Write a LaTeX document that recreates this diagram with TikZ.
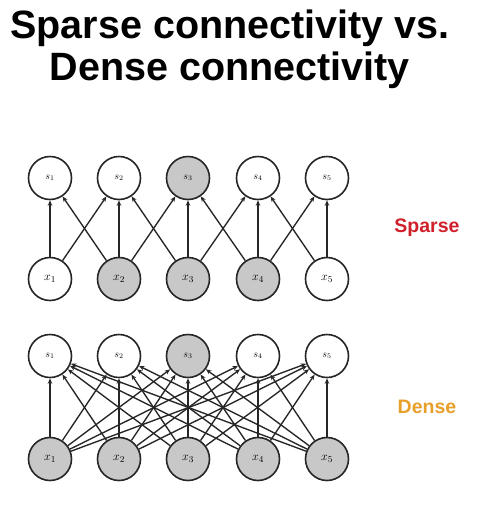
\documentclass[tikz,border=0pt]{standalone}
\usepackage{fontspec}
\setmainfont{Liberation Sans}
\usetikzlibrary{arrows.meta}
\definecolor{nodegray}{HTML}{C8C8C8}
\definecolor{sparsered}{HTML}{D0202A}
\definecolor{denseorange}{HTML}{E8A02A}
\tikzset{
  unit/.style={circle,draw=black!85,line width=1.6pt,minimum size=43pt,inner sep=0pt,fill=white},
  hot/.style={unit,fill=nodegray},
  slab/.style={font=\fontsize{10}{10}\selectfont},
  xlab/.style={font=\fontsize{12.5}{12}\selectfont},
  arr/.style={draw=black!85,line width=1.35pt,-{Stealth[length=5.5pt,width=4.5pt]}},
  title/.style={font=\fontsize{39.5}{42}\selectfont\bfseries,align=center},
  side/.style={font=\fontsize{19.5}{20}\selectfont\bfseries}
}
\begin{document}
\begin{tikzpicture}[x=1pt,y=-1pt]
\useasboundingbox[fill=white] (0,0) rectangle (483,515);
\node[title,anchor=base] (t) at (230,38) {Sparse connectivity vs.};
\node[title,anchor=base] (t2) at (230,80) {Dense connectivity};
% sparse
\node[unit,slab] (s1) at (50,178) {$s_1$};
\node[unit,slab] (s2) at (119,178) {$s_2$};
\node[hot,slab] (s3) at (188,178) {$s_3$};
\node[unit,slab] (s4) at (258,178) {$s_4$};
\node[unit,slab] (s5) at (327,178) {$s_5$};
\node[unit,xlab] (x1) at (50,279) {$x_1$};
\node[hot,xlab] (x2) at (119,279) {$x_2$};
\node[hot,xlab] (x3) at (188,279) {$x_3$};
\node[hot,xlab] (x4) at (258,279) {$x_4$};
\node[unit,xlab] (x5) at (327,279) {$x_5$};
\foreach \i in {1,...,5}{
  \draw[arr] (x\i) -- (s\i);
}
\foreach \i/\j in {1/2,2/3,3/4,4/5}{
  \draw[arr] (x\i) -- (s\j);
  \draw[arr] (x\j) -- (s\i);
}
\node[side,text=sparsered] (sp) at (427,228) {Sparse};
% dense
\node[unit,slab] (d1) at (50,356) {$s_1$};
\node[unit,slab] (d2) at (119,356) {$s_2$};
\node[hot,slab] (d3) at (188,356) {$s_3$};
\node[unit,slab] (d4) at (258,356) {$s_4$};
\node[unit,slab] (d5) at (327,356) {$s_5$};
\node[hot,xlab] (y1) at (50,459) {$x_1$};
\node[hot,xlab] (y2) at (119,459) {$x_2$};
\node[hot,xlab] (y3) at (188,459) {$x_3$};
\node[hot,xlab] (y4) at (258,459) {$x_4$};
\node[hot,xlab] (y5) at (327,459) {$x_5$};
\foreach \i in {1,...,5}{
  \foreach \j in {1,...,5}{
    \draw[arr] (y\i) -- (d\j);
  }
}
\node[side,text=denseorange] (de) at (427,407) {Dense};
\end{tikzpicture}
\end{document}
